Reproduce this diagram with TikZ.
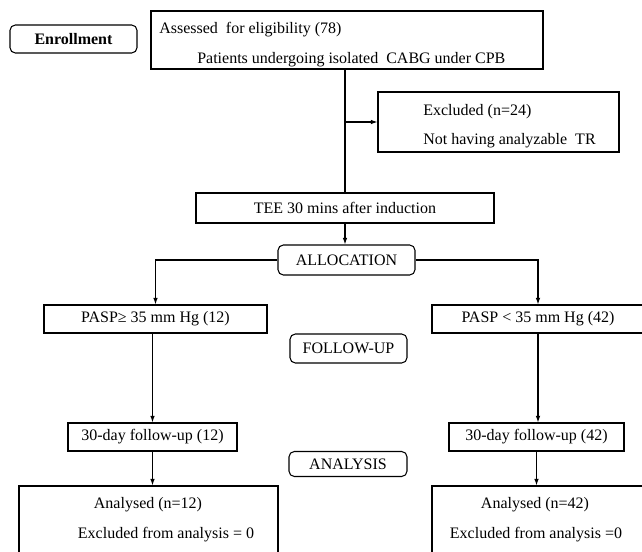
\documentclass[tikz,border=0pt]{standalone}
\usepackage{fontspec}
\setmainfont{Liberation Serif}
\usetikzlibrary{arrows.meta}
\tikzset{
  box/.style={draw, line width=0.8pt, inner sep=0pt, font=\fontsize{12}{14}\selectfont},
  stagebox/.style={box, rounded corners=4pt},
  txt/.style={inner sep=0pt, font=\fontsize{12}{14}\selectfont},
  arr/.style={-{Latex[length=5pt,width=3.5pt]}, line width=0.8pt},
  link/.style={line width=0.8pt}
}
\begin{document}
\begin{tikzpicture}[x=0.75pt,y=-0.75pt]%flow chart
\clip (0,0) rectangle (642,552);
\node[stagebox, minimum width=95.25pt, minimum height=21pt, font=\fontsize{12}{14}\selectfont\bfseries] (enrol) at (73.5,39) {Enrollment};
\node[box, minimum width=294pt, minimum height=43.5pt] (top) at (347,40) {};
\node[txt, anchor=west] (assess) at (159,30) {Assessed~ for eligibility (78)};
\node[txt, anchor=west] (cabg) at (197,60) {Patients undergoing isolated~ CABG under CPB};
\node[box, minimum width=180.75pt, minimum height=45pt] (excl) at (498.5,122) {};
\node[txt, anchor=west] (exclnum) at (423,112) {Excluded (n=24)};
\node[txt, anchor=west] (exclwhy) at (423,141) {Not having analyzable~ TR};
\node[box, minimum width=223.5pt, minimum height=22.5pt] (tee) at (345,208) {TEE 30 mins after induction};
\node[stagebox, minimum width=102.75pt, minimum height=22.5pt] (alloc) at (346.5,260) {ALLOCATION};
\node[box, minimum width=167.25pt, minimum height=21pt] (pasp1) at (155.5,319) {PASP≥ 35 mm Hg (12)};
\node[box, minimum width=159pt, minimum height=21pt] (pasp2) at (538,319) {PASP < 35 mm Hg (42)};
\node[stagebox, minimum width=87.75pt, minimum height=21.75pt] (fu) at (348.5,348.5) {FOLLOW-UP};
\node[box, minimum width=126.75pt, minimum height=21pt] (day1) at (152.5,437) {30-day follow-up (12)};
\node[box, minimum width=131.25pt, minimum height=21pt] (day2) at (536.5,437) {30-day follow-up (42)};
\node[stagebox, minimum width=88.5pt, minimum height=18.75pt] (ana) at (348,464) {ANALYSIS};
\node[box, minimum width=194.25pt, minimum height=70.5pt] (an1) at (148.5,533) {};
\node[txt] (an1n) at (148,505) {Analysed (n=12)};
\node[txt] (an1x) at (166,535) {Excluded from analysis = 0};
\node[box, minimum width=163.5pt, minimum height=70.5pt] (an2) at (541,533) {};
\node[txt] (an2n) at (535,505) {Analysed (n=42)};
\node[txt] (an2x) at (536,535) {Excluded from analysis =0};
\draw[link] (top.south -| tee.north) -- (tee.north);
\draw[arr] (tee.north |- excl.west) -- (excl.west);
\draw[arr] (tee.south) -- (tee.south |- alloc.north);
\draw[arr] (alloc.west) -| (pasp1.north);
\draw[arr] (alloc.east) -| (pasp2.north);
\draw[arr] (pasp1.south -| day1.north) -- (day1.north);
\draw[arr] (day1.south) -- (day1.south |- an1.north);
\draw[arr] (pasp2.south) -- (pasp2.south |- day2.north);
\draw[arr] (day2.south) -- (day2.south |- an2.north);
\end{tikzpicture}
\end{document}
